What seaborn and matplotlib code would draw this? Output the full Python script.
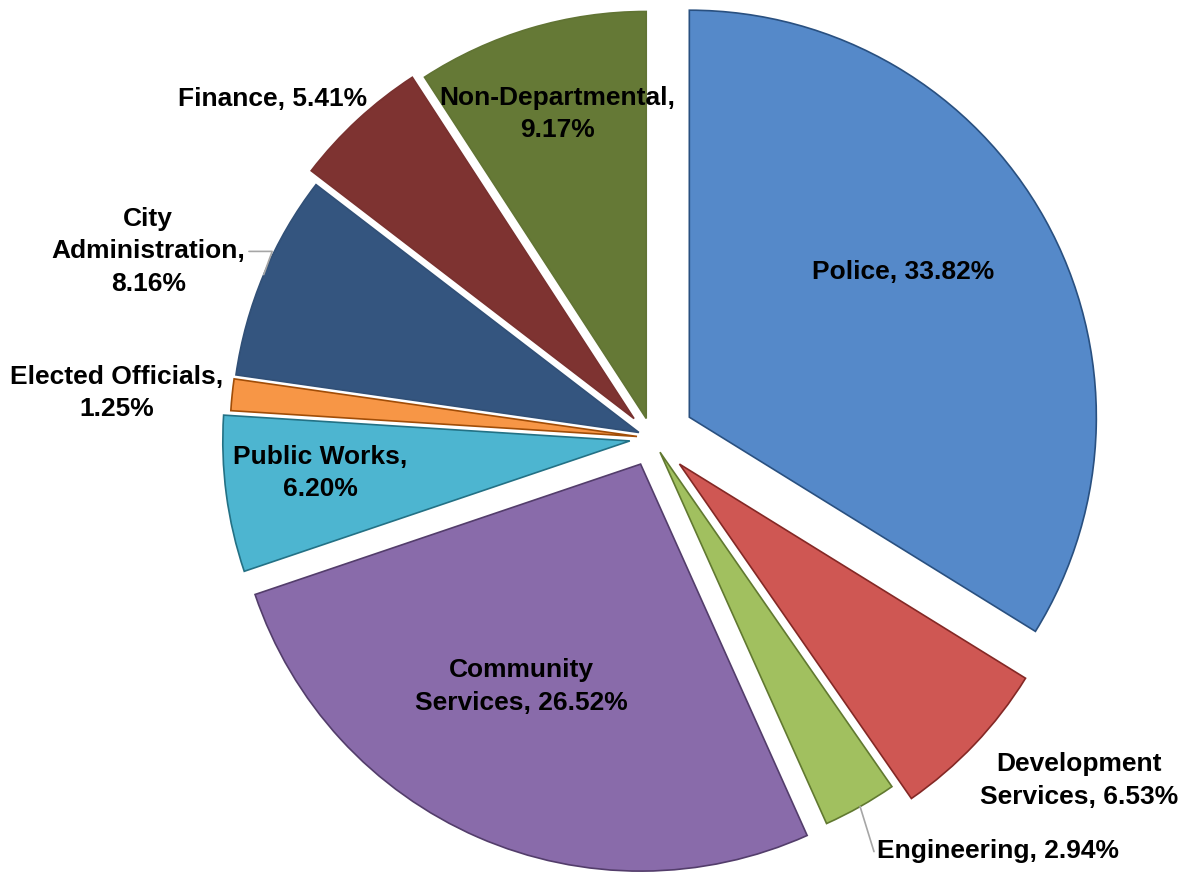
import numpy as np
import matplotlib
matplotlib.use("Agg")
import matplotlib.pyplot as plt
import seaborn as sns

# slices clockwise from 12 o'clock
departments = ["Police", "Development\nServices", "Engineering", "Community\nServices",
               "Public Works,\n", "Elected Officials,\n", "City\nAdministration,\n",
               "Finance", "Non-Departmental,\n"]
shares = [33.82, 6.53, 2.94, 26.52, 6.20, 1.25, 8.16, 5.41, 9.17]
colors = ["#5589C9", "#CF5753", "#A1C05F", "#896BAA", "#4DB5D0",
          "#F79646", "#34557F", "#7E3331", "#657936"]
explode = [0.105, 0.093, 0.04, 0.07, 0.055, 0.037, 0.035, 0.065, 0.05]

# label placement: radial factor and angle nudge (deg, clockwise)
label_r = [0.74, 1.345, 1.325, 0.69, 0.82, 1.32, 1.32, 1.25, 0.83]
label_nudge = [-4.3, -4.8, -10.5, 4.1, 1.5, -1.1, -2.5, -5.5, 0.2]
# leader lines: (connection style, attach point on text box)
leader = [None, None, ("arc3,rad=0", (0.0, 0.05)), None, None, None,
          ("angle,angleA=0,angleB=70,rad=0", (1.02, 0.5)), None, None]

sns.set_theme(style="white")
plt.rcParams["font.family"] = ["Liberation Sans", "DejaVu Sans"]

W, H = 1187, 873
cx, cy, R = 652, H - 438, 407

fig = plt.figure(figsize=(W / 100, H / 100), dpi=100)
ax = fig.add_axes([0, 0, 1, 1])

edge = [sns.set_hls_values(c, l=0.33) for c in colors]
# pie() does not scale explode by radius
wedges, _ = ax.pie(shares, colors=colors, explode=[e * R for e in explode],
                   startangle=90, counterclock=False, center=(cx, cy), radius=R,
                   wedgeprops=dict(linewidth=1.2))
for w, ec in zip(wedges, edge):
    w.set_edgecolor(ec)

# pie() resets the limits, so set them afterwards
ax.set_xlim(0, W)
ax.set_ylim(0, H)
ax.set_aspect("equal")
ax.axis("off")

start = 0.0
for name, val, e, lr, nd, ld in zip(departments, shares, explode, label_r, label_nudge, leader):
    mid = start + val / 2 * 3.6
    start += val * 3.6
    th = np.deg2rad(mid + nd)
    tx = cx + lr * R * np.sin(th)
    ty = cy + lr * R * np.cos(th)
    if name.endswith("\n"):
        txt = f"{name}{val:.2f}%"
    else:
        txt = f"{name}, {val:.2f}%"
    if ld:
        tm = np.deg2rad(mid)
        px = cx + (1 + e) * R * np.sin(tm)
        py = cy + (1 + e) * R * np.cos(tm)
        ax.annotate(txt, xy=(px, py), xytext=(tx, ty), ha="center", va="center",
                    fontsize=19, fontweight="bold", color="black", linespacing=1.45,
                    arrowprops=dict(arrowstyle="-", color="#A6A6A6", lw=1.2,
                                    shrinkA=0, shrinkB=0, connectionstyle=ld[0],
                                    relpos=ld[1]),
                    zorder=5)
    else:
        ax.text(tx, ty, txt, ha="center", va="center", fontsize=19,
                fontweight="bold", color="black", linespacing=1.45)

fig.savefig("out.png", dpi=100)
